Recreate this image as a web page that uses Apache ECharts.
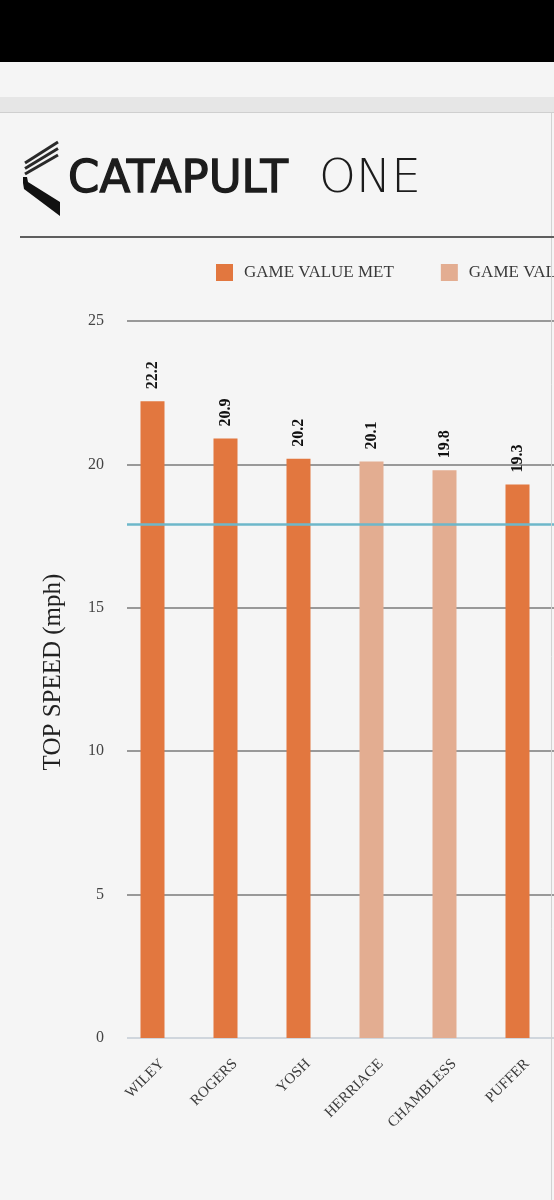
<!DOCTYPE html>
<html>
<head>
<meta charset="utf-8">
<script src="https://cdn.jsdelivr.net/npm/echarts@6/dist/echarts.min.js"></script>
<style>
html,body{margin:0;padding:0;background:#f5f5f5;}
#chart{width:554px;height:1200px;}
</style>
</head>
<body>
<div id="chart"></div>
<script>
var players = ['WILEY', 'ROGERS', 'YOSH', 'HERRIAGE', 'CHAMBLESS', 'PUFFER'];
var valueMet = [22.2, 20.9, 20.2, '-', '-', 19.3];
var valueNotMet = ['-', '-', '-', 20.1, 19.8, '-'];
var gameTarget = 17.9;
var yTicks = [0, 5, 10, 15, 20, 25];
var seriesNames = ['GAME VALUE MET', 'GAME VALUE NOT MET'];
var yTitle = 'TOP SPEED (mph)';

var SERIF = '"Liberation Serif", "Times New Roman", serif';
var LOGO = '"DejaVu Sans", sans-serif';
var DARK = '#e2773f';
var LIGHT = '#e3ad91';

var chart = echarts.init(document.getElementById('chart'), null, {renderer: 'canvas'});

var barLabel = {
  show: true,
  position: 'top',
  rotate: 90,
  align: 'left',
  verticalAlign: 'middle',
  distance: 12,
  fontFamily: SERIF,
  fontWeight: 'bold',
  fontSize: 16,
  color: '#111'
};

var option = {
  backgroundColor: '#f5f5f5',
  animation: false,
  graphic: [
    {type: 'rect', shape: {x: 0, y: 0, width: 554, height: 62}, style: {fill: '#000'}, z: 100},
    {type: 'rect', shape: {x: 0, y: 97, width: 554, height: 15}, style: {fill: '#e6e6e6'}, z: 100},
    {type: 'line', shape: {x1: 0, y1: 112.5, x2: 554, y2: 112.5}, style: {stroke: '#cfcfcf', lineWidth: 1}, z: 100},
    {type: 'line', shape: {x1: 551.5, y1: 113, x2: 551.5, y2: 1200}, style: {stroke: '#d2d2d2', lineWidth: 1}, z: 100},
    // logo mark
    {type: 'line', shape: {x1: 25, y1: 163, x2: 58, y2: 142}, style: {stroke: '#2a2a2a', lineWidth: 3}, z: 100},
    {type: 'line', shape: {x1: 25, y1: 168.5, x2: 58, y2: 148.5}, style: {stroke: '#2a2a2a', lineWidth: 3}, z: 100},
    {type: 'line', shape: {x1: 25, y1: 174, x2: 58, y2: 155}, style: {stroke: '#2a2a2a', lineWidth: 3}, z: 100},
    {type: 'polygon', shape: {points: [[23, 177], [27, 177], [28, 182], [60, 202], [60, 216], [24, 189], [23, 183]]}, style: {fill: '#111'}, z: 100},
    {type: 'text', x: 68, y: 180, style: {text: 'CATAPULT', font: 'normal 45px ' + LOGO, verticalAlign: 'middle', fill: '#1c1c1c', stroke: '#1c1c1c', lineWidth: 1.3}, z: 100},
    {type: 'text', x: 319, y: 180, style: {text: 'ONE', font: '200 47px "DejaVu Sans ExtraLight", "DejaVu Sans", sans-serif', verticalAlign: 'middle', fill: '#1c1c1c'}, z: 100},
    {type: 'line', shape: {x1: 20, y1: 237, x2: 554, y2: 237}, style: {stroke: '#5e5e5e', lineWidth: 2}, z: 100},
    // y axis title
    {type: 'text', x: 53, y: 672, rotation: Math.PI / 2, style: {text: yTitle, font: 'normal 25px ' + SERIF, align: 'center', verticalAlign: 'middle', fill: '#222'}, z: 100}
  ],
  legend: {
    data: seriesNames,
    left: 216,
    top: 264,
    width: 1000,
    padding: 0,
    itemWidth: 17,
    itemHeight: 17,
    itemGap: 47,
    icon: 'rect',
    textStyle: {fontFamily: SERIF, fontSize: 17, color: '#3a3a3a', padding: [0, 0, 0, 6]}
  },
  grid: [
    {left: 116, top: 321, width: 444, bottom: 162},
    {left: 127, top: 321, right: -20, bottom: 162}
  ],
  xAxis: [
    {
      type: 'category',
      gridIndex: 0,
      data: players,
      axisLine: {show: false},
      axisTick: {show: false},
      axisLabel: {rotate: 45, margin: 14, interval: 0, align: 'right', verticalAlign: 'top', padding: [6, 0, 0, 0], fontFamily: SERIF, fontSize: 15, color: '#3c3c3c'}
    },
    {
      type: 'value',
      gridIndex: 1,
      min: 0,
      max: 1,
      show: false
    }
  ],
  yAxis: [
    {
      type: 'value',
      gridIndex: 0,
      min: 0,
      max: 25,
      interval: 5,
      show: false,
      splitLine: {show: false}
    },
    {
      type: 'value',
      gridIndex: 1,
      min: yTicks[0],
      max: yTicks[yTicks.length - 1],
      interval: 5,
      axisLine: {show: false},
      axisTick: {show: false},
      axisLabel: {margin: 23, fontFamily: SERIF, fontSize: 16, color: '#444'},
      splitLine: {show: true, lineStyle: {color: ['#c3cbd5', '#7a7a7a', '#7a7a7a', '#7a7a7a', '#7a7a7a', '#7a7a7a'], width: 1.5}}
    }
  ],
  series: [
    {
      name: seriesNames[0],
      type: 'bar',
      xAxisIndex: 0,
      yAxisIndex: 0,
      stack: 'speed',
      barWidth: 24,
      data: valueMet,
      itemStyle: {color: DARK},
      label: barLabel,
      z: 3
    },
    {
      name: seriesNames[1],
      type: 'bar',
      xAxisIndex: 0,
      yAxisIndex: 0,
      stack: 'speed',
      barWidth: 24,
      data: valueNotMet,
      itemStyle: {color: LIGHT},
      label: barLabel,
      z: 3
    },
    {
      name: 'target',
      type: 'line',
      xAxisIndex: 1,
      yAxisIndex: 1,
      data: [],
      z: 2,
      markLine: {
        silent: true,
        symbol: 'none',
        label: {show: false},
        lineStyle: {color: '#6db7ca', width: 2.5, type: 'solid'},
        data: [{yAxis: gameTarget}]
      }
    }
  ]
};
chart.setOption(option);
</script>
</body>
</html>
